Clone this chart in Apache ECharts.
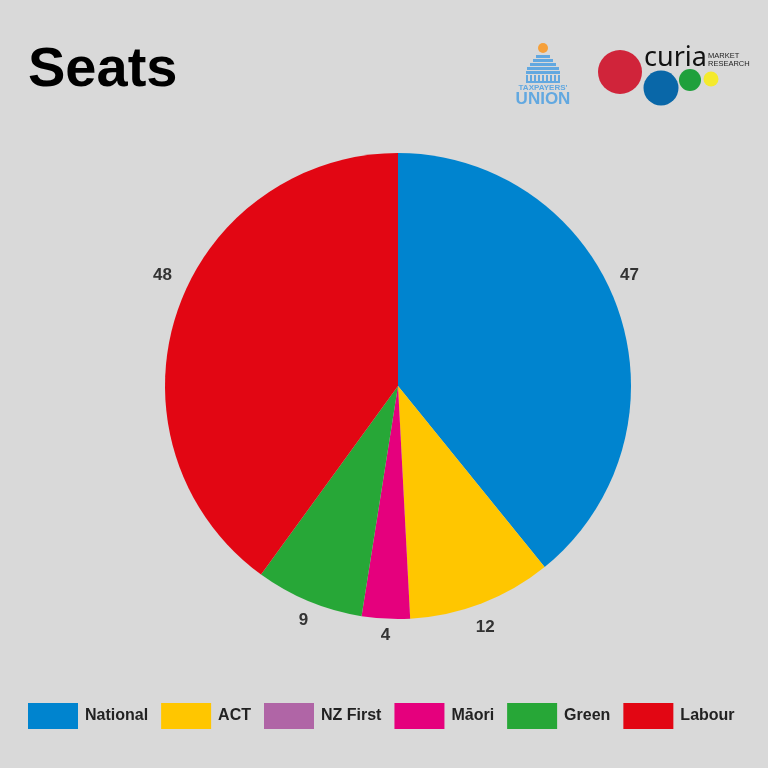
<!DOCTYPE html>
<html>
<head>
<meta charset="utf-8">
<script src="https://cdn.jsdelivr.net/npm/echarts@6/dist/echarts.min.js"></script>
<style>
html,body{margin:0;padding:0;background:#d9d9d9;}
#chart{width:768px;height:768px;}
</style>
</head>
<body>
<div id="chart"></div>
<script>
var parties = ['National', 'ACT', 'NZ First', 'Māori', 'Green', 'Labour'];
var seats = [47, 12, 0, 4, 9, 48];
var partyColors = ['#0084cf', '#ffc600', '#b065a6', '#e5007d', '#27a737', '#e20613'];
var titleText = 'Seats';

// label nudges (layout only)
var labelNudge = [[-14, -29], [-15, 13], [0, 0], [10, 5], [9, 8], [12, -35]];

var chart = echarts.init(document.getElementById('chart'));
var pieData = parties.map(function (p, i) {
  return { name: p, value: seats[i], itemStyle: { color: partyColors[i] }, label: { offset: labelNudge[i] } };
});

var blue = '#62a8e0';
var logoEls = [
  { type: 'circle', shape: { cx: 543, cy: 48, r: 5 }, style: { fill: '#f6a03a' } },
  { type: 'rect', shape: { x: 536, y: 55, width: 14, height: 3 }, style: { fill: blue } },
  { type: 'rect', shape: { x: 533, y: 59, width: 20, height: 3 }, style: { fill: blue } },
  { type: 'rect', shape: { x: 530, y: 63, width: 26, height: 3 }, style: { fill: blue } },
  { type: 'rect', shape: { x: 527, y: 67, width: 32, height: 3 }, style: { fill: blue } },
  { type: 'rect', shape: { x: 526, y: 71, width: 34, height: 3 }, style: { fill: blue } },
  { type: 'rect', shape: { x: 526, y: 81, width: 34, height: 2 }, style: { fill: blue } },
  { type: 'text', style: { text: "TAXPAYERS'", x: 543, y: 84, align: 'center', verticalAlign: 'top', fill: blue, font: 'bold 8px "Liberation Sans Narrow", sans-serif' } },
  { type: 'text', style: { text: 'UNION', x: 543, y: 91, align: 'center', verticalAlign: 'top', fill: blue, font: 'bold 17px "Liberation Sans Narrow", sans-serif' } },
  { type: 'circle', shape: { cx: 620, cy: 72, r: 22 }, style: { fill: '#d0243a' } },
  { type: 'circle', shape: { cx: 661, cy: 88, r: 17.5 }, style: { fill: '#0967a8' } },
  { type: 'circle', shape: { cx: 690, cy: 80, r: 11 }, style: { fill: '#1fa03c' } },
  { type: 'circle', shape: { cx: 711, cy: 79, r: 7.5 }, style: { fill: '#f4ea2d' } },
  { type: 'text', style: { text: 'curia', x: 644, y: 72, verticalAlign: 'bottom', fill: '#111', font: '27px "Noto Sans", sans-serif' } },
  { type: 'text', style: { text: 'MARKET', x: 708, y: 56, verticalAlign: 'middle', fill: '#222', font: '7.5px "Liberation Sans Narrow", sans-serif' } },
  { type: 'text', style: { text: 'RESEARCH', x: 708, y: 64, verticalAlign: 'middle', fill: '#222', font: '7.5px "Liberation Sans Narrow", sans-serif' } }
];
for (var k = 0; k < 9; k++) {
  logoEls.push({ type: 'rect', shape: { x: 526 + k * 4, y: 75, width: 2, height: 6 }, style: { fill: blue } });
}

chart.setOption({
  backgroundColor: '#d9d9d9',
  animation: false,
  title: {
    text: titleText,
    left: 23,
    top: 38,
    textStyle: { fontFamily: '"Liberation Sans", Arial, sans-serif', fontSize: 56, fontWeight: 'bold', color: '#000' }
  },
  legend: {
    data: parties,
    left: 28,
    top: 703,
    padding: 0,
    icon: 'rect',
    itemWidth: 50,
    itemHeight: 26,
    itemGap: 13,
    textStyle: { fontFamily: '"Liberation Sans", Arial, sans-serif', fontSize: 16, fontWeight: 'bold', color: '#222', padding: [0, 0, 0, 2] }
  },
  graphic: logoEls,
  series: [{
    type: 'pie',
    center: [398, 386],
    radius: 233,
    startAngle: 90,
    clockwise: true,
    avoidLabelOverlap: false,
    data: pieData,
    legendHoverLink: false,
    label: {
      show: true,
      position: 'outside',
      formatter: function (p) { return p.value === 0 ? '' : String(p.value); },
      fontFamily: '"Liberation Sans", Arial, sans-serif',
      fontSize: 17,
      fontWeight: 'bold',
      color: '#333'
    },
    labelLine: { show: false, length: 12, length2: 0 },
    emphasis: { disabled: true }
  }]
});
</script>
</body>
</html>
